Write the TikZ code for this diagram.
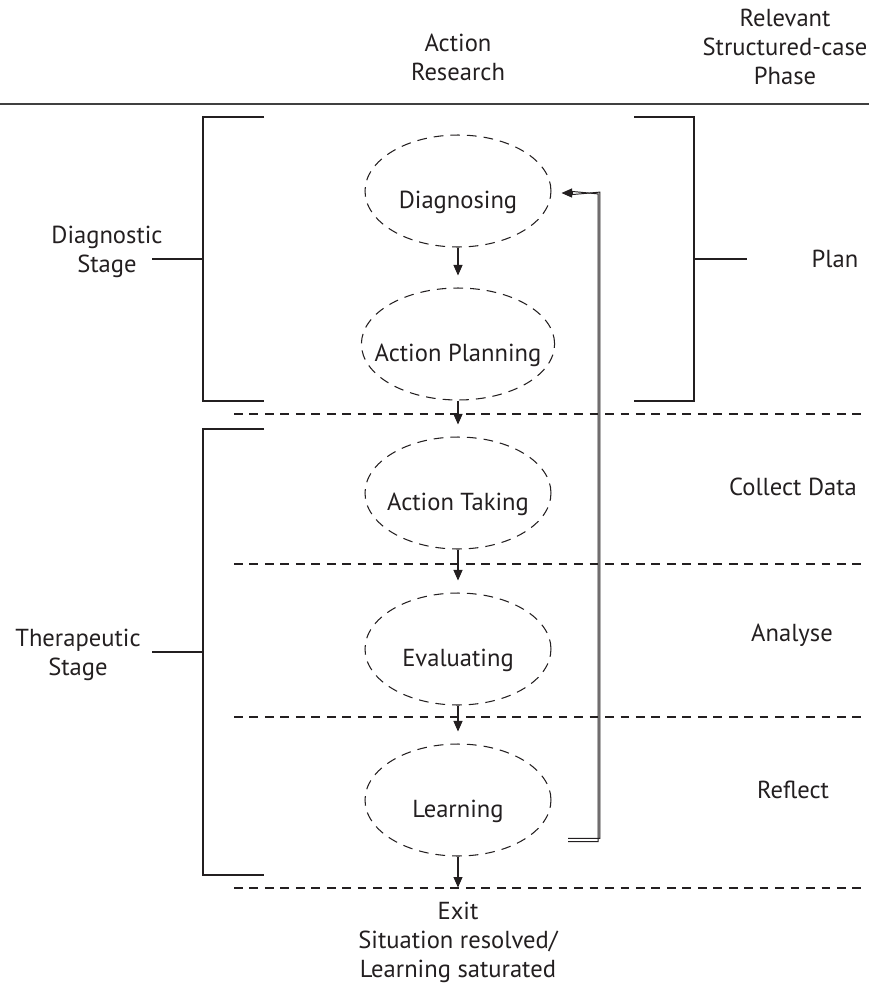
\documentclass[tikz,border=0pt]{standalone}
\usepackage{fontspec}
\setmainfont{PT Sans}
\usetikzlibrary{arrows.meta,shapes.geometric}
\definecolor{ink}{HTML}{231F20}
\begin{document}
\begin{tikzpicture}[x=0.02cm,y=-0.02cm,
    every node/.style={font=\fontsize{14}{16.5}\selectfont,text=ink},
    lbl/.style={align=center},
    phase/.style={draw=ink,ellipse,line width=0.6pt,dash pattern=on 5.5pt off 4pt,
      minimum width=3.72cm,minimum height=2.24cm,inner xsep=-0.3cm,inner ysep=0pt,
      text height=22pt,text depth=1.6pt},
    flow/.style={draw=ink,line width=0.6pt,-{Triangle[length=2.1mm,width=1.8mm]},
      shorten >=0.24cm},
    sep/.style={draw=ink,line width=0.6pt,dash pattern=on 5pt off 3.8pt},
    brace/.style={draw=ink,line width=0.6pt},
    back/.style={draw=ink,line width=0.55pt}]
  \useasboundingbox (0,0) rectangle (869,985);
  % headings
  \node[lbl] (arhead) at (458,57) {Action\\Research};
  \node[lbl] (schead) at (785,47) {Relevant\\Structured-case\\Phase};
  \draw[draw=black!75,line width=0.9pt] (0,104) -- (869,104);
  % action research cycle
  \node[phase] (diag) at (458,191) {Diagnosing};
  \node[phase] (plan) at (458,344) {Action Planning};
  \node[phase] (take) at (458,493) {Action Taking};
  \node[phase] (eval) at (458,649) {Evaluating};
  \node[phase] (learn) at (458,800) {Learning};
  \node[lbl] (exit) at (458,942) {Exit\\Situation resolved/\\Learning saturated};
  \draw[flow] (diag) -- (plan);
  \draw[flow] (plan) -- (take);
  \draw[flow] (take) -- (eval);
  \draw[flow] (eval) -- (learn);
  \draw[flow,shorten >=0.16cm] (learn) -- (exit);
  % feedback loop (double line)
  \coordinate (fbstart) at (568,840);
  \coordinate (fbturn) at (599,193);
  \coordinate (fbtip) at (572,193);
  \draw[back] ([yshift=0.9]fbstart) -| ([shift={(0.9,-0.9)}]fbturn) -- ([yshift=-0.9]fbtip);
  \draw[back] ([yshift=-0.9]fbstart) -| ([shift={(-0.9,0.9)}]fbturn) -- ([yshift=0.9]fbtip);
  \draw[flow,shorten >=0.2cm] (fbtip) -- (diag.east |- fbturn);
  % phase separators
  \foreach \y in {414,564,717,888}
    \draw[sep] (234,\y) -- (862,\y);
  % stages
  \node[lbl] (dstage) at (107,252) {Diagnostic\\Stage};
  \node[lbl] (tstage) at (78,655) {Therapeutic\\Stage};
  \draw[brace] (264,117) -- (203,117) -- (203,401) -- (264,401);
  \draw[brace] (152,259) -- (203,259);
  \draw[brace] (264,429) -- (203,429) -- (203,875) -- (264,875);
  \draw[brace] (152,652) -- (203,652);
  % structured-case phases
  \draw[brace] (634,117) -- (694,117) -- (694,401) -- (634,401);
  \draw[brace] (694,259) -- (747,259);
  \node (plan2) at (835,259) {Plan};
  \node (collect) at (793,487) {Collect Data};
  \node (analyse) at (792,635) {Analyse};
  \node (reflect) at (793,790) {Reflect};
\end{tikzpicture}
\end{document}
